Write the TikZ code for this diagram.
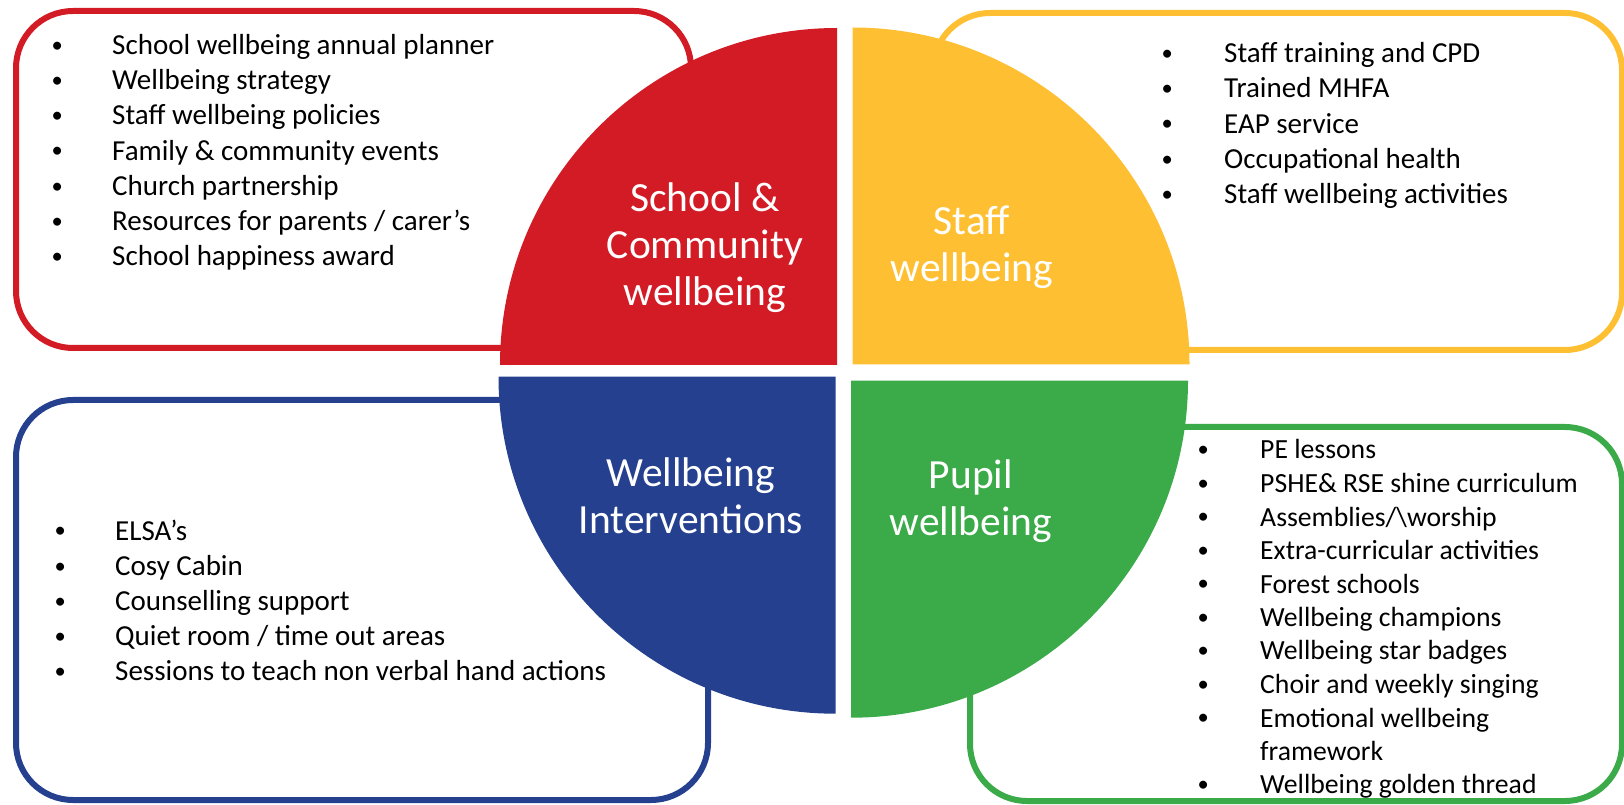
\documentclass[tikz,border=0pt]{standalone}
\usepackage{fontspec}
\setmainfont{Carlito}
\usepackage{tikz}

\definecolor{schoolred}{RGB}{210,27,37}
\definecolor{staffyellow}{RGB}{254,192,50}
\definecolor{interblue}{RGB}{36,64,142}
\definecolor{pupilgreen}{RGB}{59,170,72}

\tikzstyle{panel}=[rounded corners=57pt, line width=6pt, fill=white]
\tikzstyle{qlabel}=[text=white, anchor=base, inner sep=0pt,
  font=\fontsize{41.5}{47}\selectfont]
\tikzstyle{blist}=[anchor=base west, inner sep=0pt,
  font=\fontsize{29}{35.2}\selectfont]

\newlength{\bulletgap}
\newcommand{\bl}{\makebox[\bulletgap][l]{\makebox[0pt]{%
  \raisebox{2.2pt}{\fontsize{22.5}{22.5}\selectfont\textbullet}}}}
\newcommand{\nb}{\hspace*{\bulletgap}}

\begin{document}
\begin{tikzpicture}[x=1pt, y=1pt]
\useasboundingbox (0,0) rectangle (1624,804);

\draw[panel, draw=schoolred] (16,456) rectangle (691,793);
\draw[panel, draw=staffyellow] (933,454) rectangle (1622,791);
\draw[panel, draw=interblue] (16,4) rectangle (708,404);
\draw[panel, draw=pupilgreen] (970,3) rectangle (1622,377);

% four quarters of the disc, pulled slightly apart
\fill[schoolred] (837,439) -- (500,439)
  arc[start angle=180, end angle=90, radius=337] -- cycle;
\fill[staffyellow] (852.5,439.5) -- (852.5,776.5)
  arc[start angle=90, end angle=0, radius=337] -- cycle;
\fill[interblue] (835.5,427.3) -- (498.5,427.3)
  arc[start angle=180, end angle=270, radius=337] -- cycle;
\fill[pupilgreen] (851,423.3) -- (1188,423.3)
  arc[start angle=0, end angle=-90, radius=337] -- cycle;

\node[qlabel] (schoollabel) at (705,592.3)
  {\begin{tabular}[t]{@{}c@{}}School \&\\Community\\wellbeing\end{tabular}};
\node[qlabel] (stafflabel) at (972,569)
  {\begin{tabular}[t]{@{}c@{}}Staff\\wellbeing\end{tabular}};
\node[qlabel] (interlabel) at (691,318)
  {\begin{tabular}[t]{@{}c@{}}Wellbeing\\Interventions\end{tabular}};
\node[qlabel] (pupillabel) at (971,315.7)
  {\begin{tabular}[t]{@{}c@{}}Pupil\\wellbeing\end{tabular}};

\node[blist] (schoollist) at (57,749.5) {\setlength{\bulletgap}{55pt}%
  \begin{tabular}[t]{@{}l@{}}
  \bl School wellbeing annual planner\\
  \bl Wellbeing strategy\\
  \bl Staff wellbeing policies\\
  \bl Family \& community events\\
  \bl Church partnership\\
  \bl Resources for parents / carer’s\\
  \bl School happiness award
  \end{tabular}};

\node[blist] (stafflist) at (1167,741.3) {\setlength{\bulletgap}{57pt}%
  \begin{tabular}[t]{@{}l@{}}
  \bl Staff training and CPD\\
  \bl Trained MHFA\\
  \bl EAP service\\
  \bl Occupational health\\
  \bl Staff wellbeing activities
  \end{tabular}};

\node[blist] (interlist) at (60,264) {\setlength{\bulletgap}{55pt}%
  \begin{tabular}[t]{@{}l@{}}
  \bl ELSA’s\\
  \bl Cosy Cabin\\
  \bl Counselling support\\
  \bl Quiet room / time out areas\\
  \bl Sessions to teach non verbal hand actions
  \end{tabular}};

\node[blist, font=\fontsize{27.7}{33.5}\selectfont] (pupillist) at (1203,345)
  {\setlength{\bulletgap}{57pt}%
  \begin{tabular}[t]{@{}l@{}}
  \bl PE lessons\\
  \bl PSHE\& RSE shine curriculum\\
  \bl Assemblies/\textbackslash worship\\
  \bl Extra-curricular activities\\
  \bl Forest schools\\
  \bl Wellbeing champions\\
  \bl Wellbeing star badges\\
  \bl Choir and weekly singing\\
  \bl Emotional wellbeing\\
  \nb framework\\
  \bl Wellbeing golden thread
  \end{tabular}};

\end{tikzpicture}
\end{document}
